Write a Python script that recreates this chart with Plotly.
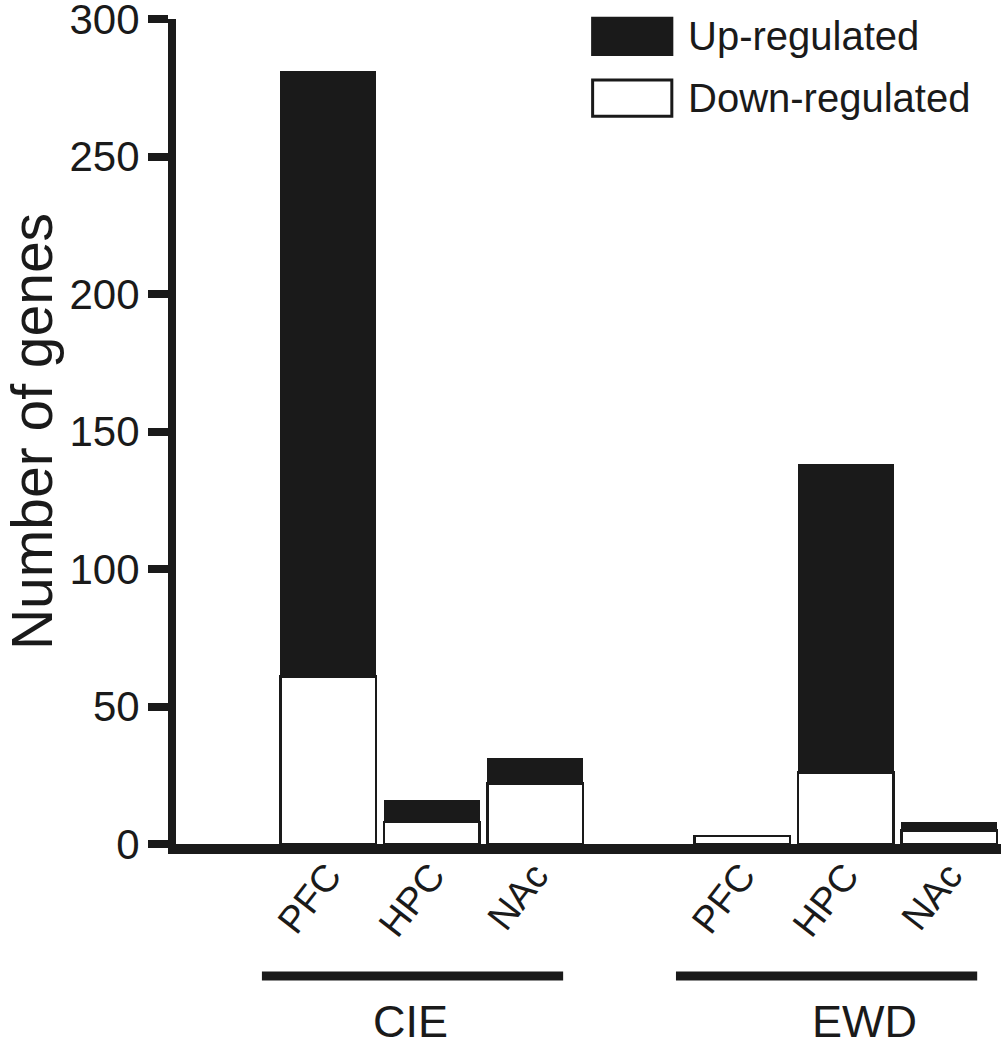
import plotly.graph_objects as go

# ---- data ----
groups = ["CIE", "EWD"]
regions = ["PFC", "HPC", "NAc"]
down_regulated = [61, 8, 22, 3, 26, 5]
up_regulated = [220, 8, 9, 0, 112, 3]
series_names = ["Up-regulated", "Down-regulated"]
y_ticks = [0, 50, 100, 150, 200, 250, 300]

FONT = "Liberation Sans, Arial, Helvetica, sans-serif"
INK = "#1a1a1a"

# category positions: groups separated by an empty slot
positions = []
labels = []
for gi, g in enumerate(groups):
    for ri, r in enumerate(regions):
        positions.append(gi * (len(regions) + 1) + ri + 1)
        labels.append(r)

fig = go.Figure()
fig.add_trace(go.Bar(
    x=positions, y=down_regulated, name=series_names[1], width=0.92,
    marker=dict(color="white", line=dict(color=INK, width=2.5)),
))
fig.add_trace(go.Bar(
    x=positions, y=up_regulated, name=series_names[0], width=0.92,
    marker=dict(color=INK, line=dict(color=INK, width=1)),
))

shapes = []
annotations = []
# group brackets and labels
label_shift = [-0.2, 0.18]
for gi, g in enumerate(groups):
    gpos = positions[gi * len(regions):(gi + 1) * len(regions)]
    center = sum(gpos) / len(gpos)
    shapes.append(dict(type="line", xref="x", yref="paper",
                       x0=center - 1.64, x1=center + 1.27, y0=-0.16, y1=-0.16,
                       line=dict(color=INK, width=9)))
    annotations.append(dict(x=center + label_shift[gi], y=-0.215, xref="x", yref="paper",
                            text=g, showarrow=False, xanchor="center", yanchor="middle",
                            font=dict(family=FONT, size=45, color=INK)))

# custom legend
leg = [(series_names[0], INK, 0.979), (series_names[1], "white", 0.904)]
for name, fill, yc in leg:
    shapes.append(dict(type="rect", xref="paper", yref="paper",
                       x0=0.505, x1=0.601, y0=yc - 0.022, y1=yc + 0.022,
                       fillcolor=fill, line=dict(color=INK, width=3)))
    annotations.append(dict(x=0.618, y=yc, xref="paper", yref="paper", text=name,
                            showarrow=False, xanchor="left", yanchor="middle",
                            font=dict(family=FONT, size=40, color=INK)))

fig.update_layout(
    width=1001, height=1050,
    margin=dict(l=176, r=0, t=19, b=206, autoexpand=False),
    barmode="stack",
    plot_bgcolor="white", paper_bgcolor="white",
    showlegend=False,
    font=dict(family=FONT, color=INK),
    shapes=shapes, annotations=annotations,
    xaxis=dict(
        range=[-0.47, 7.5], tickmode="array", tickvals=positions, ticktext=labels,
        tickangle=-52, tickfont=dict(family=FONT, size=38, color=INK),
        showline=True, linecolor=INK, linewidth=10, ticks="", showgrid=False,
        zeroline=False, automargin=False, ticklabelstandoff=-16,
    ),
    yaxis=dict(
        range=[0, 300], tickmode="array", tickvals=y_ticks,
        tickfont=dict(family=FONT, size=42, color=INK),
        ticklabeloverflow="allow",
        showline=True, linecolor=INK, linewidth=8, ticks="outside",
        ticklen=20, tickwidth=8, tickcolor=INK, showgrid=False, zeroline=False,
        automargin=False,
        title=dict(text="Number of genes", font=dict(family=FONT, size=57, color=INK),
                   standoff=53),
    ),
)

fig.write_html("out.html", config={"displayModeBar": False},
               post_script="document.body.style.margin='0px';")
